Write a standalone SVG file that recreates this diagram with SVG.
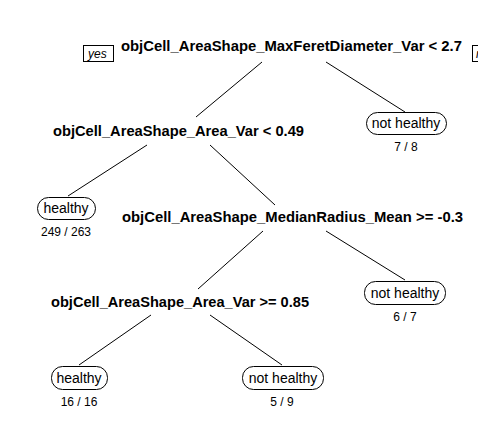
<svg xmlns="http://www.w3.org/2000/svg" width="478" height="441" viewBox="0 0 478 441">
<style>
.split{font-family:"Liberation Sans",Arial,sans-serif;font-weight:bold;font-size:14.5px;fill:#000}
.leaf rect{fill:#fff;stroke:#000;stroke-width:1}
.lt{font-family:"Liberation Sans",Arial,sans-serif;font-size:14px;fill:#000;text-anchor:middle}
.cnt{font-family:"Liberation Sans",Arial,sans-serif;font-size:12px;fill:#000;text-anchor:middle}
.lab rect{fill:#fff;stroke:#000;stroke-width:1}
.lab text{font-family:"Liberation Sans",Arial,sans-serif;font-style:italic;font-size:12px;fill:#000}
#edges line{stroke:#000;stroke-width:1}
</style>
<rect width="478" height="441" fill="#fff"/>
<g id="edges">
<line x1="262" y1="62" x2="196" y2="117"/>
<line x1="326" y1="62" x2="405" y2="112"/>
<line x1="147" y1="145" x2="68" y2="196"/>
<line x1="210" y1="145" x2="275" y2="205"/>
<line x1="263" y1="231" x2="198" y2="289"/>
<line x1="326" y1="231" x2="405" y2="280"/>
<line x1="151" y1="315" x2="79" y2="365"/>
<line x1="210" y1="315" x2="282" y2="365"/>
</g>
<g id="yes" class="lab"><rect x="83.5" y="45.5" width="30" height="16"/><text x="88" y="57.5">yes</text></g>
<g id="no" class="lab"><rect x="472.5" y="45.5" width="30" height="16"/><text x="476" y="57.5">no</text></g>
<g id="n1"><text class="split" x="121" y="51" textLength="341" lengthAdjust="spacingAndGlyphs">objCell_AreaShape_MaxFeretDiameter_Var &lt; 2.7</text></g>
<g id="n2"><text class="split" x="53" y="136" textLength="251" lengthAdjust="spacingAndGlyphs">objCell_AreaShape_Area_Var &lt; 0.49</text></g>
<g id="n3"><text class="split" x="122" y="222" textLength="341" lengthAdjust="spacingAndGlyphs">objCell_AreaShape_MedianRadius_Mean &gt;= -0.3</text></g>
<g id="n4"><text class="split" x="51" y="307" textLength="258" lengthAdjust="spacingAndGlyphs">objCell_AreaShape_Area_Var &gt;= 0.85</text></g>
<g id="leaf1" class="leaf"><rect x="366.5" y="112.5" width="80" height="22" rx="11"/><text class="lt" x="406" y="128">not healthy</text><text class="cnt" x="406" y="151">7 / 8</text></g>
<g id="leaf2" class="leaf"><rect x="37.5" y="197.5" width="58" height="22" rx="11"/><text class="lt" x="66" y="213">healthy</text><text class="cnt" x="66" y="236">249 / 263</text></g>
<g id="leaf3" class="leaf"><rect x="364.5" y="281.5" width="81" height="23" rx="11"/><text class="lt" x="405" y="298">not healthy</text><text class="cnt" x="405" y="321">6 / 7</text></g>
<g id="leaf4" class="leaf"><rect x="51.5" y="366.5" width="56" height="23" rx="11"/><text class="lt" x="79" y="383">healthy</text><text class="cnt" x="79" y="406">16 / 16</text></g>
<g id="leaf5" class="leaf"><rect x="242.5" y="366.5" width="81" height="23" rx="11"/><text class="lt" x="283" y="383">not healthy</text><text class="cnt" x="282" y="406">5 / 9</text></g>
</svg>
